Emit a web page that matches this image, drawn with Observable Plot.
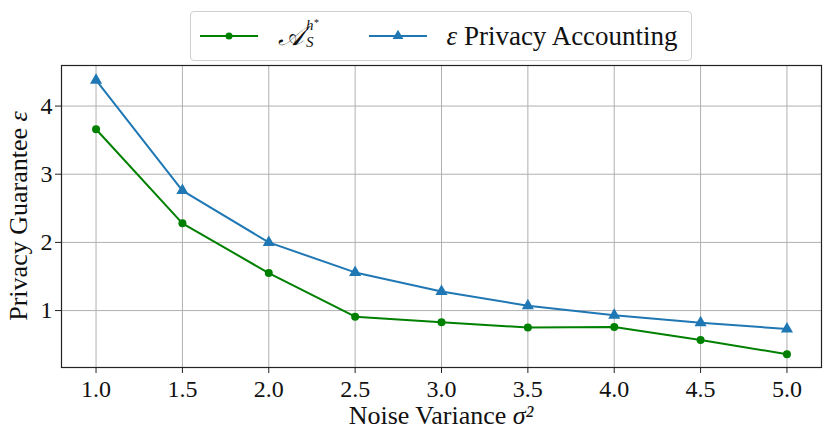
<!DOCTYPE html>
<html>
<head>
<meta charset="utf-8">
<script src="https://cdn.jsdelivr.net/npm/d3@7"></script>
<script src="https://cdn.jsdelivr.net/npm/@observablehq/plot@0.6"></script>
<style>
  html, body { margin: 0; padding: 0; background: #fff; }
  #wrap { width: 831px; height: 441px; position: relative; font-family: "Liberation Serif", serif; }
  #legendRow { height: 62px; position: relative; }
  #legend {
    position: absolute; left: 190px; top: 11px; width: 502px; height: 50px;
    border: 1px solid #d0d0d0; border-radius: 4px; box-sizing: border-box;
    display: flex; align-items: center; font-size: 27px; color: #111;
  }
  .item { display: flex; align-items: center; }
  .sw { display: block; }
  .scr { font-family: "DejaVu Serif", "Liberation Serif", serif; font-style: italic; font-size: 27px; }
  .stack { display: inline-flex; flex-direction: column; font-size: 15px; line-height: 1.15; font-style: italic; margin-left: 2px; transform: translateY(-2px); }
  svg text { font-family: "Liberation Serif", serif; }
</style>
</head>
<body>
<div id="wrap">
  <div id="legendRow"><div id="legend"></div></div>
  <div id="chart"></div>
</div>
<script>
const sigma2 = [1.0, 1.5, 2.0, 2.5, 3.0, 3.5, 4.0, 4.5, 5.0];
const epsAhs = [3.66, 2.28, 1.55, 0.91, 0.83, 0.75, 0.76, 0.57, 0.36];
const epsAccounting = [4.38, 2.76, 2.00, 1.56, 1.28, 1.07, 0.93, 0.82, 0.73];
const xTicks = [1.0, 1.5, 2.0, 2.5, 3.0, 3.5, 4.0, 4.5, 5.0];
const yTicks = [1, 2, 3, 4];

const green = "#008000";
const blue = "#1f77b4";

const dataA = sigma2.map((s, i) => ({s, e: epsAhs[i]}));
const dataB = sigma2.map((s, i) => ({s, e: epsAccounting[i]}));

const W = 831, H = 379;
const chart = Plot.plot({
  width: W,
  height: H,
  marginTop: 3,
  marginBottom: 74,
  marginLeft: 61,
  marginRight: 10,
  style: {fontFamily: "Liberation Serif, serif", background: "#fff", color: "#111"},
  x: {domain: [0.8, 5.2]},
  y: {domain: [0.165, 4.595]},
  marks: [
    Plot.gridX(xTicks, {stroke: "#b0b0b0", strokeOpacity: 1, strokeWidth: 1}),
    Plot.gridY(yTicks, {stroke: "#b0b0b0", strokeOpacity: 1, strokeWidth: 1}),
    Plot.axisX(xTicks, {tickSize: 6, tickPadding: 6, fontSize: 24, tickFormat: d3.format(".1f"), label: null, stroke: "#222"}),
    Plot.axisY(yTicks, {tickSize: 6, tickPadding: 3, fontSize: 24, tickFormat: d3.format("d"), label: null, stroke: "#222"}),
    Plot.line(dataA, {x: "s", y: "e", stroke: green, strokeWidth: 2}),
    Plot.dot(dataA, {x: "s", y: "e", fill: green, r: 4, symbol: "circle"}),
    Plot.line(dataB, {x: "s", y: "e", stroke: blue, strokeWidth: 2}),
    Plot.dot(dataB, {x: "s", y: "e", fill: blue, r: 4.5, symbol: "triangle"}),
    Plot.frame({stroke: "#222", strokeWidth: 1.2})
  ]
});
document.getElementById("chart").appendChild(chart);

// axis titles with math styling
const sx = chart.scale("x"), sy = chart.scale("y");
const svg = d3.select(chart);
const cx = (sx.range[0] + sx.range[1]) / 2;
const cy = (sy.range[0] + sy.range[1]) / 2;
const xt = svg.append("text")
  .attr("x", cx).attr("y", H - 17)
  .attr("text-anchor", "middle")
  .attr("font-size", 26).attr("fill", "#111");
xt.append("tspan").text("Noise Variance ");
xt.append("tspan").attr("font-style", "italic").text("σ²");

const yt = svg.append("text")
  .attr("transform", `translate(27,${cy}) rotate(-90)`)
  .attr("text-anchor", "middle")
  .attr("font-size", 26).attr("fill", "#111");
yt.append("tspan").text("Privacy Guarantee ");
yt.append("tspan").attr("font-style", "italic").text("ε");

// legend
const legend = d3.select("#legend");
function swatch(parent, color, symbol, r) {
  const s = parent.append("svg").attr("class", "sw").attr("width", 58).attr("height", 20);
  s.append("line").attr("x1", 0).attr("x2", 58).attr("y1", 10).attr("y2", 10)
    .attr("stroke", color).attr("stroke-width", 2);
  s.append("path").attr("transform", "translate(29,10)")
    .attr("d", d3.symbol(symbol, Math.PI * r * r)())
    .attr("fill", color);
}
const it1 = legend.append("div").attr("class", "item").style("margin-left", "9px");
swatch(it1, green, d3.symbolCircle, 3.5);
const lab1 = it1.append("span").style("margin-left", "20px").style("display", "inline-flex").style("align-items", "center");
lab1.append("span").attr("class", "scr").text("𝒜");
const st = lab1.append("span").attr("class", "stack");
st.append("span").html("h<sup style='font-size:10px;vertical-align:4px'>*</sup>");
st.append("span").text("S");

const it2 = legend.append("div").attr("class", "item").style("margin-left", "50px");
swatch(it2, blue, d3.symbolTriangle, 4);
const lab2 = it2.append("span").style("margin-left", "20px");
lab2.append("span").style("font-style", "italic").text("ε");
lab2.append("span").text(" Privacy Accounting");
</script>
</body>
</html>
